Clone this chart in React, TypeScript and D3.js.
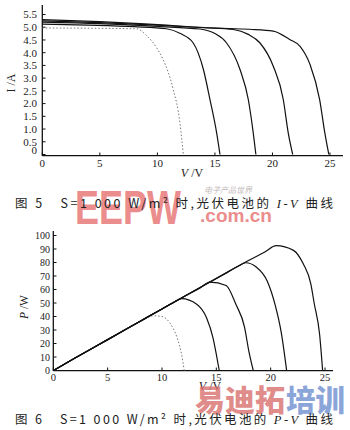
import React from "react";
import * as d3 from "d3";

// ---------- I-V data (Fig. 5) ----------
const ivV1 = [0, 4, 8.2, 9.0, 9.94, 10.5, 11.38, 11.96, 12.25];
const ivI1 = [4.97, 4.96, 4.94, 4.7, 4.19, 3.73, 2.55, 1.25, 0];
const ivV2 = [0, 4, 8, 10.8, 12.0, 13.1, 14.0, 14.57, 15.15, 15.44];
const ivI2 = [5.12, 5.08, 5.02, 4.94, 4.75, 4.39, 3.34, 2.16, 0.85, 0];
const ivV3 = [0, 5, 10, 13.7, 15.0, 16.0, 17.18, 17.9, 18.33, 18.56];
const ivI3 = [5.2, 5.14, 5.03, 4.93, 4.75, 4.39, 3.34, 2.16, 0.85, 0];
const ivV4 = [0, 5, 10, 14, 16.6, 17.9, 18.9, 20.07, 20.94, 21.37, 21.76];
const ivI4 = [5.25, 5.18, 5.08, 4.98, 4.91, 4.72, 4.39, 3.47, 2.16, 0.85, 0];
const ivV5 = [0, 5, 10, 15, 18, 20.07, 21.5, 22.4, 23.26, 24.1, 24.55, 24.9];
const ivI5 = [5.3, 5.22, 5.1, 4.97, 4.92, 4.85, 4.52, 4.25, 3.54, 2.16, 0.85, 0];

const ivXTicks = [0, 5, 10, 15, 20, 25];
const ivYTicks = [0, 0.5, 1.0, 1.5, 2.0, 2.5, 3.0, 3.5, 4.0, 4.5, 5.0, 5.5];

// ---------- P-V data (Fig. 6) ----------
const pvV1 = [0, 2, 4, 6, 8, 9.2, 10.0, 10.7, 11.4, 11.8, 12.05];
const pvP1 = [0, 9.2, 18.3, 27.3, 36.2, 40.5, 40, 35.5, 24, 12, 0];
const pvV2 = [0, 2, 4, 6, 8, 10, 11.0, 11.8, 13.2, 14.1, 14.7, 15.0, 15.27];
const pvP2 = [0, 9.2, 18.3, 27.4, 36.5, 45.6, 50.0, 53.2, 49, 39, 24, 12, 0];
const pvV3 = [0, 2, 4, 6, 8, 10, 12, 13.5, 14.4, 15.9, 16.8, 17.6, 18.0, 18.4];
const pvP3 = [0, 9.2, 18.3, 27.4, 36.5, 45.6, 54.7, 61.2, 65.5, 63, 49, 32, 14, 0];
const pvV4 = [0, 2, 4, 6, 8, 10, 12, 14, 16, 17.0, 17.7, 18.7, 19.7, 20.4, 21.0, 21.47];
const pvP4 = [0, 9.2, 18.3, 27.4, 36.5, 45.6, 54.7, 63.7, 72.7, 77.2, 79.8, 76.5, 66, 49, 27, 0];
const pvV5 = [0, 2, 4, 6, 8, 10, 12, 14, 16, 18, 19.5, 20.5, 22.1, 23.0, 23.7, 24.0, 24.5, 24.78];
const pvP5 = [0, 9.2, 18.3, 27.4, 36.5, 45.6, 54.7, 63.7, 72.7, 81.6, 88, 92.5, 89, 79, 64, 50, 27, 0];

const pvXTicks = [0, 5, 10, 15, 20, 25];
const pvYTicks = [0, 10, 20, 30, 40, 50, 60, 70, 80, 90, 100];

const serif = "'Liberation Serif', 'DejaVu Serif', serif";
const cjk = "'Noto Sans CJK SC', sans-serif";
const sans = "'Liberation Sans', Arial, sans-serif";

function zip(xs: number[], ys: number[]): [number, number][] {
  return xs.map((x, i) => [x, ys[i]]);
}

export default function App() {
  // Fig 5 scales
  const x1 = d3.scaleLinear().domain([0, 25]).range([42.3, 330]);
  const y1 = d3.scaleLinear().domain([0, 5.5]).range([154.5, 14.5]);
  const line1 = d3
    .line<[number, number]>()
    .x((d) => x1(d[0]))
    .y((d) => y1(d[1]))
    .curve(d3.curveMonotoneX);

  // Fig 6 scales
  const x2 = d3.scaleLinear().domain([0, 25]).range([53.3, 325]);
  const y2 = d3.scaleLinear().domain([0, 100]).range([370.5, 235.5]);
  const line2 = d3
    .line<[number, number]>()
    .x((d) => x2(d[0]))
    .y((d) => y2(d[1]))
    .curve(d3.curveMonotoneX);

  const iv = [zip(ivV2, ivI2), zip(ivV3, ivI3), zip(ivV4, ivI4), zip(ivV5, ivI5)];
  const pv = [zip(pvV2, pvP2), zip(pvV3, pvP3), zip(pvV4, pvP4), zip(pvV5, pvP5)];

  return (
    <svg
      width={350}
      height={430}
      style={{ position: "absolute", left: 0, top: 0, background: "#fff" }}
    >
      <rect x={0} y={0} width={350} height={430} fill="#fff" />

      {/* ---------- Fig 5 ---------- */}
      <g>
        <line x1={42.3} x2={42.3} y1={5} y2={155.7} stroke="#111" strokeWidth={1.3} />
        <line x1={42.3} x2={343} y1={155.7} y2={155.7} stroke="#111" strokeWidth={1.3} />
        {ivXTicks.map((t) => (
          <g key={"x1" + t}>
            <line x1={x1(t)} x2={x1(t)} y1={155.7} y2={152.5} stroke="#111" />
            <text
              x={x1(t)}
              y={167}
              textAnchor="middle"
              fontFamily={serif}
              fontSize={11}
              fill="#222"
            >
              {t}
            </text>
          </g>
        ))}
        {ivYTicks.map((t) => (
          <g key={"y1" + t}>
            <line x1={42.3} x2={45.5} y1={y1(t)} y2={y1(t)} stroke="#111" />
            <text
              x={37}
              y={t === 0 ? y1(t) - 4 : y1(t)}
              dy="0.35em"
              textAnchor="end"
              fontFamily={serif}
              fontSize={11}
              fill="#222"
            >
              {t === 0 ? "0" : t.toFixed(1)}
            </text>
          </g>
        ))}
        <text
          transform="translate(15,83) rotate(-90)"
          textAnchor="middle"
          fontFamily={serif}
          fontSize={12}
          fill="#222"
        >
          I /A
        </text>
        <text x={192} y={177} textAnchor="middle" fontFamily={serif} fontSize={12} fill="#222">
          <tspan fontStyle="italic">V</tspan> /V
        </text>

        <path
          d={line1(zip(ivV1, ivI1)) || ""}
          fill="none"
          stroke="#777"
          strokeWidth={1}
          strokeDasharray="1.5,2"
        />
        {iv.map((c, i) => (
          <path key={"iv" + i} d={line1(c) || ""} fill="none" stroke="#111" strokeWidth={1.2} />
        ))}
      </g>

      {/* watermark 1 (behind caption) */}
      <g opacity={0.85}>
        <text
          x={75}
          y={224}
          fontFamily={sans}
          fontWeight={900}
          fontSize={48}
          fill="#e87a7a"
          textLength={106}
          lengthAdjust="spacingAndGlyphs"
        >
          EEPW
        </text>
        <text
          x={200}
          y={222}
          fontFamily={sans}
          fontWeight={700}
          fontSize={18}
          fill="#e87a7a"
          textLength={72}
          lengthAdjust="spacingAndGlyphs"
        >
          .com.cn
        </text>
        <text x={204} y={193} fontFamily={cjk} fontSize={8} fill="#b8b0b0" fontStyle="italic">
          电子产品世界
        </text>
      </g>

      {/* caption 5 */}
      <text
        x={15}
        y={208}
        fontFamily={cjk}
        fontSize={12.5}
        fill="#222"
        textLength={318}
        lengthAdjust="spacing"
      >
        图 5{"\u00a0\u00a0\u00a0"}S=1 000 W/m² 时,光伏电池的 <tspan fontStyle="italic" fontFamily={serif}>I-V</tspan> 曲线
      </text>

      {/* ---------- Fig 6 ---------- */}
      <g>
        <line x1={53.3} x2={53.3} y1={231} y2={370.7} stroke="#111" strokeWidth={1.3} />
        <line x1={53.3} x2={333} y1={370.7} y2={370.7} stroke="#111" strokeWidth={1.3} />
        {pvXTicks.map((t) => (
          <g key={"x2" + t}>
            <line x1={x2(t)} x2={x2(t)} y1={370.7} y2={367.5} stroke="#111" />
            <text
              x={x2(t)}
              y={381}
              textAnchor="middle"
              fontFamily={serif}
              fontSize={10.5}
              fill="#222"
            >
              {t}
            </text>
          </g>
        ))}
        {pvYTicks.map((t) => (
          <g key={"y2" + t}>
            <line x1={53.3} x2={56.5} y1={y2(t)} y2={y2(t)} stroke="#111" />
            <text
              x={50}
              y={y2(t)}
              dy="0.35em"
              textAnchor="end"
              fontFamily={serif}
              fontSize={10}
              fill="#222"
            >
              {t}
            </text>
          </g>
        ))}
        <text
          transform="translate(28,307) rotate(-90)"
          textAnchor="middle"
          fontFamily={serif}
          fontSize={11.5}
          fill="#222"
        >
          <tspan fontStyle="italic">P</tspan> /W
        </text>
        <text x={210} y={390} textAnchor="middle" fontFamily={serif} fontSize={12} fill="#222">
          <tspan fontStyle="italic">V</tspan> /V
        </text>

        <path
          d={line2(zip(pvV1, pvP1)) || ""}
          fill="none"
          stroke="#777"
          strokeWidth={1}
          strokeDasharray="1.5,2"
        />
        {pv.map((c, i) => (
          <path key={"pv" + i} d={line2(c) || ""} fill="none" stroke="#111" strokeWidth={1.2} />
        ))}
      </g>

      {/* watermark 2 */}
      <g opacity={0.8}>
        <text
          x={195}
          y={411}
          fontFamily={cjk}
          fontWeight={900}
          fontSize={30}
          fill="#d9706e"
          textLength={90}
          lengthAdjust="spacingAndGlyphs"
        >
          易迪拓
        </text>
        <text
          x={286}
          y={411}
          fontFamily={cjk}
          fontWeight={900}
          fontSize={30}
          fill="#6f8fd0"
          textLength={59}
          lengthAdjust="spacingAndGlyphs"
        >
          培训
        </text>
      </g>

      {/* caption 6 */}
      <text
        x={15}
        y={424}
        fontFamily={cjk}
        fontSize={12.5}
        fill="#222"
        textLength={318}
        lengthAdjust="spacing"
      >
        图 6{"\u00a0\u00a0\u00a0"}S=1 000 W/m² 时,光伏电池的 <tspan fontStyle="italic" fontFamily={serif}>P-V</tspan> 曲线
      </text>
    </svg>
  );
}
